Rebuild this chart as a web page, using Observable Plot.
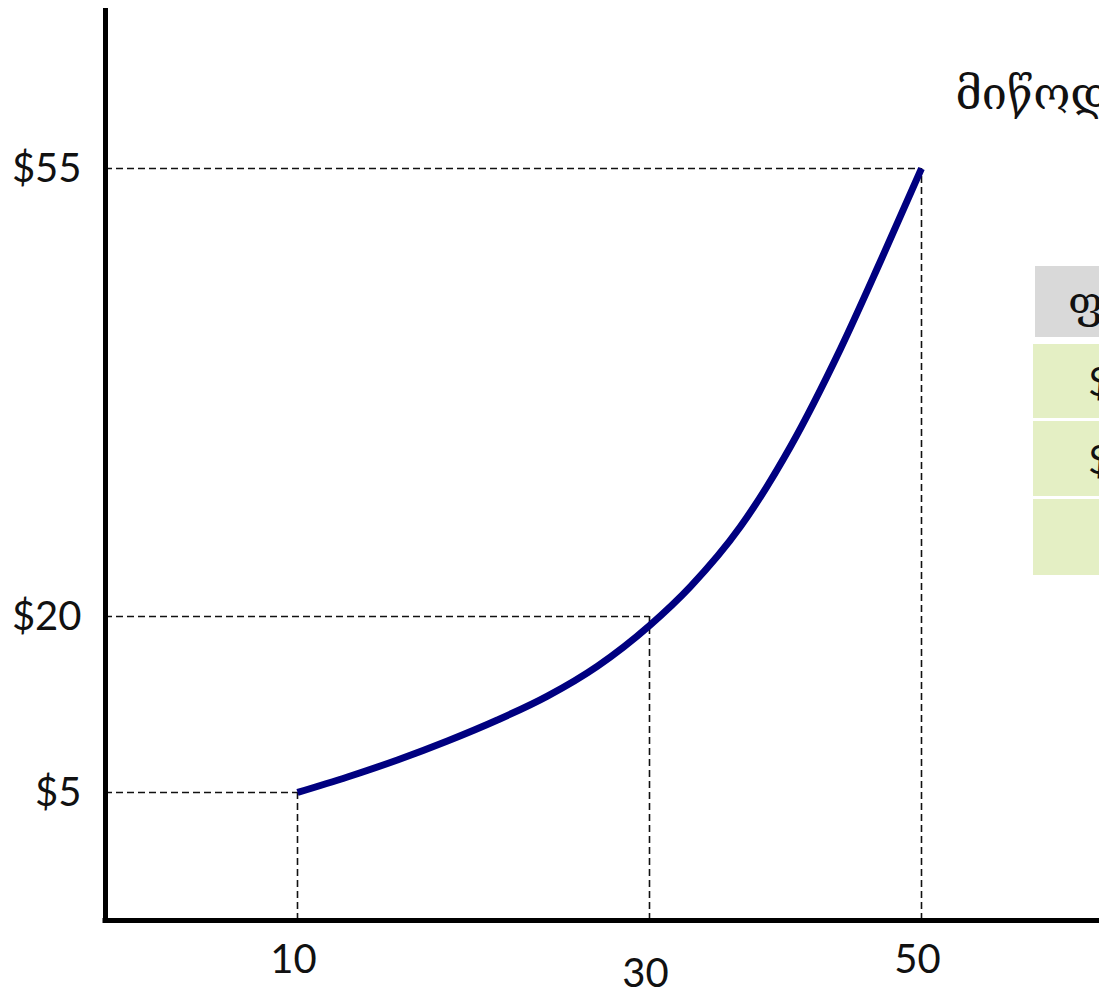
<!DOCTYPE html>
<html><head><meta charset="utf-8">
<script src="https://cdn.jsdelivr.net/npm/d3@7"></script>
<script src="https://cdn.jsdelivr.net/npm/@observablehq/plot@0.6"></script>
<style>
html,body{margin:0;padding:0;background:#fff;overflow:hidden;}
#wrap{position:relative;width:1099px;height:995px;overflow:hidden;}
#wrap svg{position:absolute;left:0;top:0;}
.cell{position:absolute;box-sizing:border-box;display:flex;align-items:center;white-space:nowrap;width:220px;color:#111;}
.head{background:#d9d9d9;font-family:"DejaVu Serif","DejaVu Sans",serif;font-size:43px;padding-left:33px;}
.row{background:#e4efc4;font-family:Lato,"Open Sans",sans-serif;font-size:40px;padding-left:55px;}
</style></head><body><div id="wrap"></div>
<script>
// Guide points of the supply curve
const quantities = [10, 30, 50];
const prices = [5, 20, 55];
const priceLabels = ["$5", "$20", "$55"];
// Supply curve (quantity, price)
const curveQ = [10, 12.84, 15.68, 18.52, 21.36, 24.2, 27.05, 30, 33.01, 36.69, 40.37, 44.04, 46.99, 50];
const curveP = [5, 6.32, 7.77, 9.39, 11.18, 13.22, 15.78, 19.23, 22.34, 27.03, 33.28, 40.9, 47.77, 55];
const curveLabel = "მიწოდება";
// Table (partially visible at right)
const tableHeader = "ფასი";
const tableRows = ["$5", "$20", ""];

const points = quantities.map((q, i) => ({q, p: prices[i], label: priceLabels[i]}));
const curve = curveQ.map((q, i) => ({q, p: curveP[i]}));

// The source drawing's axes are unevenly spaced: piecewise-linear scale transforms
const xWarp = d3.scaleLinear().domain([0, 10, 30, 50, 60]).range([105, 297, 649, 921, 1099]);
const yWarp = d3.scaleLinear().domain([0, 5, 20, 55, 67]).range([920, 792, 616, 168, 8]);

const dash = {stroke: "#111", strokeWidth: 1.6, strokeDasharray: "7,4"};
const tickFont = {fontFamily: "Lato, 'Open Sans', sans-serif", fontSize: 40, fill: "#111"};

const chart = Plot.plot({
  width: 1099,
  height: 995,
  margin: 0,
  style: {background: "white", overflow: "hidden"},
  x: {type: "identity", transform: xWarp, axis: null},
  y: {type: "identity", transform: yWarp, axis: null},
  marks: [
    Plot.ruleY(points, {y: "p", x1: 0, x2: "q", ...dash}),
    Plot.ruleX(points, {x: "q", y1: 0, y2: "p", ...dash}),
    Plot.line(curve, {x: "q", y: "p", curve: "monotone-x", stroke: "#000080", strokeWidth: 7, strokeLinecap: "butt"}),
    Plot.ruleX([0], {y1: 0, y2: 67, stroke: "black", strokeWidth: 5}),
    Plot.ruleY([0], {x1: 0, x2: 60, stroke: "black", strokeWidth: 5, strokeLinecap: "square"}),
    Plot.text(points, {x: 0, y: "p", text: "label", textAnchor: "end", dx: -24, dy: 1, ...tickFont}),
    Plot.text(quantities.filter(d => d !== 30), {x: d => d, y: 0, text: d => String(d), dx: -4, dy: 40, ...tickFont}),
    Plot.text(quantities.filter(d => d === 30), {x: d => d, y: 0, text: d => String(d), dx: -4, dy: 54, ...tickFont}),
    Plot.text([curveLabel], {x: 50, y: 55, text: d => d, textAnchor: "start", dx: 34, dy: -74,
      fontFamily: "'DejaVu Serif', 'DejaVu Sans', serif", fontSize: 45, fill: "#111"})
  ]
});

const wrap = document.getElementById("wrap");
wrap.appendChild(chart);

// Table overlay
const head = document.createElement("div");
head.className = "cell head";
Object.assign(head.style, {left: "1035px", top: "266px", height: "71px"});
head.textContent = tableHeader;
wrap.appendChild(head);
const rowTops = [344, 421, 499];
const rowHeights = [74, 75, 76];
tableRows.forEach((t, i) => {
  const r = document.createElement("div");
  r.className = "cell row";
  Object.assign(r.style, {left: "1033px", top: rowTops[i] + "px", height: rowHeights[i] + "px"});
  r.textContent = t;
  wrap.appendChild(r);
});
</script></body></html>
